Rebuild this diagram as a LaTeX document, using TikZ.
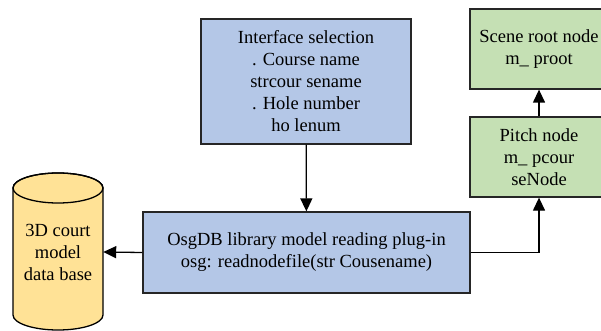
\documentclass[tikz,border=0pt]{standalone}
\usepackage{fontspec}
\setmainfont{Liberation Serif}
\usetikzlibrary{arrows.meta}

\definecolor{boxblue}{RGB}{180,199,231}
\definecolor{boxgreen}{RGB}{197,224,180}
\definecolor{dbyellow}{RGB}{255,226,150}

\begin{document}
\begin{tikzpicture}[x=1pt,y=1pt,>={Triangle[length=13pt,width=12pt]}]
\tikzstyle{blk}=[rectangle,draw=black!85,line width=1.3pt,inner sep=0pt,align=center,font=\fontsize{18.5}{22}\selectfont]
\tikzstyle{ui}=[blk,fill=boxblue]
\tikzstyle{scn}=[blk,fill=boxgreen]
\tikzstyle{dbtext}=[rectangle,inner sep=0pt,minimum width=90pt,align=center,font=\fontsize{18.5}{22}\selectfont]
\tikzstyle{flow}=[draw=black,line width=1.3pt,->]
\useasboundingbox (0,0) rectangle (601,-331);
% database cylinder
\filldraw[fill=dbyellow,draw=black,line width=1.3pt] (13,-188) -- (13,-315)
  arc[start angle=180,end angle=360,x radius=45pt,y radius=15pt] -- (103,-188)
  arc[start angle=0,end angle=180,x radius=45pt,y radius=15pt] -- cycle;
\draw[line width=1.3pt] (58,-188) ellipse [x radius=45pt,y radius=15pt];
\node [dbtext] (db) at (58,-252) {3D court\\model\\data base};
% boxes
\node [ui,minimum width=210pt,minimum height=125pt] (sel) at (306,-81.5) {Interface selection\\. Course name\\strcour sename\\. Hole number\\ho lenum};
\node [ui,minimum width=327pt,minimum height=81pt] (osg) at (306.5,-252.5) {OsgDB library model reading plug-in\\osg: readnodefile(str Cousename)};
\node [scn,minimum width=138pt,minimum height=80pt] (root) at (539,-49) {Scene root node\\m\_ proot};
\node [scn,minimum width=138pt,minimum height=80pt] (pitch) at (539,-157) {Pitch node\\m\_ pcour\\seNode};
% arrows
\draw [flow] (sel) -- (osg);
\draw [flow] (osg.west) -- (db.east);
\draw [flow] (osg.east) -| (pitch.south);
\draw [flow] (pitch) -- (root);
\end{tikzpicture}
\end{document}
